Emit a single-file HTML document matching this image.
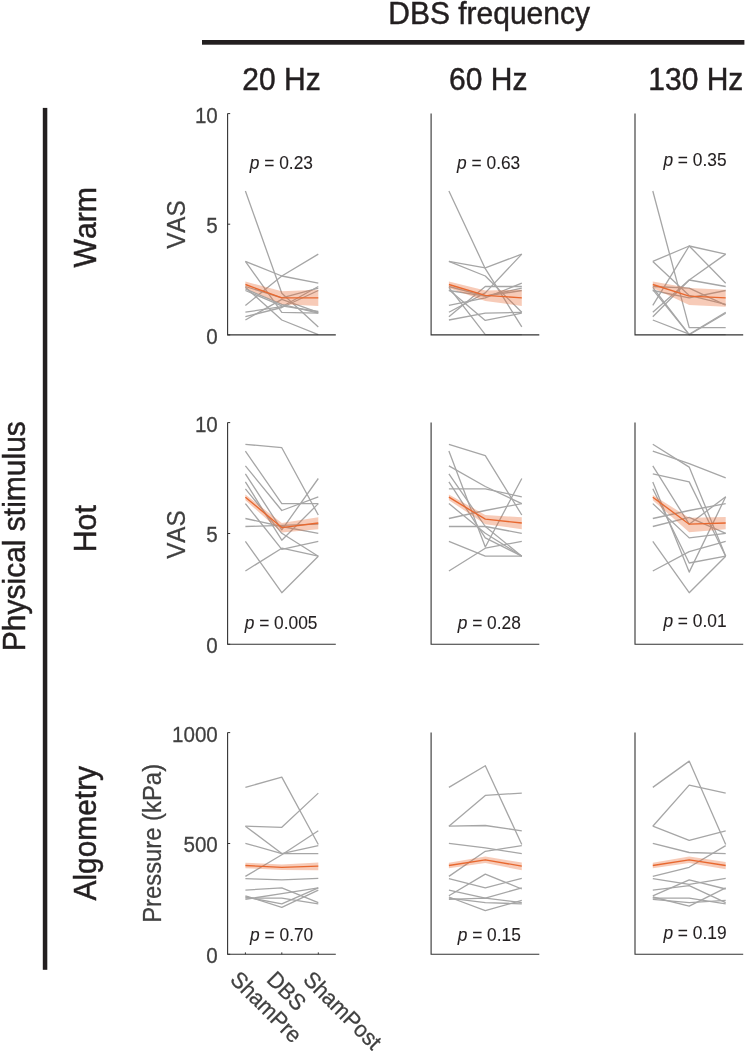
<!DOCTYPE html>
<html><head><meta charset="utf-8"><title>DBS frequency</title>
<style>html,body{margin:0;padding:0;background:#fff;}svg{display:block;filter:blur(0.35px);}text{font-family:"Liberation Sans",sans-serif;font-kerning:none;}</style>
</head><body>
<svg width="746" height="1051" viewBox="0 0 746 1051">
<rect width="746" height="1051" fill="#ffffff"/>
<text transform="translate(489.10,23.50) scale(1,1.05)" font-size="30" text-anchor="middle" fill="#231f20" stroke="#231f20" stroke-width="0.45">DBS frequency</text>
<rect x="202" y="40.0" width="542.4" height="4.7" fill="#231f20"/>
<text transform="translate(281.50,89.80) scale(1,1.05)" font-size="30" text-anchor="middle" fill="#231f20" stroke="#231f20" stroke-width="0.45">20 Hz</text>
<text transform="translate(488.30,89.80) scale(1,1.05)" font-size="30" text-anchor="middle" fill="#231f20" stroke="#231f20" stroke-width="0.45">60 Hz</text>
<text transform="translate(695.80,89.80) scale(1,1.05)" font-size="30" text-anchor="middle" fill="#231f20" stroke="#231f20" stroke-width="0.45">130 Hz</text>
<rect x="42.8" y="107.9" width="4.5" height="861.9" fill="#231f20"/>
<text transform="translate(24.70,536.20) rotate(-90) scale(1,1.05)" font-size="30.0" text-anchor="middle" fill="#231f20" stroke="#231f20" stroke-width="0.45">Physical stimulus</text>
<text transform="translate(96.20,227.30) rotate(-90) scale(1,1.05)" font-size="30.2" text-anchor="middle" fill="#231f20" stroke="#231f20" stroke-width="0.45">Warm</text>
<text transform="translate(96.20,528.70) rotate(-90) scale(1,1.05)" font-size="30.3" text-anchor="middle" fill="#231f20" stroke="#231f20" stroke-width="0.45">Hot</text>
<text transform="translate(96.20,833.20) rotate(-90) scale(1,1.05)" font-size="29.9" text-anchor="middle" fill="#231f20" stroke="#231f20" stroke-width="0.45">Algometry</text>
<text transform="translate(185.00,224.60) rotate(-90) scale(1,1.05)" font-size="24.2" text-anchor="middle" fill="#404040" stroke="#404040" stroke-width="0.25">VAS</text>
<text transform="translate(185.00,534.60) rotate(-90) scale(1,1.05)" font-size="24.2" text-anchor="middle" fill="#404040" stroke="#404040" stroke-width="0.25">VAS</text>
<text transform="translate(161.00,843.40) rotate(-90) scale(1,1.05)" font-size="23.85" text-anchor="middle" fill="#404040" stroke="#404040" stroke-width="0.25">Pressure (kPa)</text>
<text transform="translate(217.80,122.60) scale(1,1.1)" font-size="20.6" text-anchor="end" fill="#404040" stroke="#404040" stroke-width="0.25">10</text>
<text transform="translate(217.80,233.25) scale(1,1.1)" font-size="20.6" text-anchor="end" fill="#404040" stroke="#404040" stroke-width="0.25">5</text>
<text transform="translate(217.80,343.90) scale(1,1.1)" font-size="20.6" text-anchor="end" fill="#404040" stroke="#404040" stroke-width="0.25">0</text>
<text transform="translate(217.80,431.60) scale(1,1.1)" font-size="20.6" text-anchor="end" fill="#404040" stroke="#404040" stroke-width="0.25">10</text>
<text transform="translate(217.80,542.45) scale(1,1.1)" font-size="20.6" text-anchor="end" fill="#404040" stroke="#404040" stroke-width="0.25">5</text>
<text transform="translate(217.80,653.30) scale(1,1.1)" font-size="20.6" text-anchor="end" fill="#404040" stroke="#404040" stroke-width="0.25">0</text>
<text transform="translate(217.80,741.60) scale(1,1.1)" font-size="20.6" text-anchor="end" fill="#404040" stroke="#404040" stroke-width="0.25">1000</text>
<text transform="translate(217.80,852.45) scale(1,1.1)" font-size="20.6" text-anchor="end" fill="#404040" stroke="#404040" stroke-width="0.25">500</text>
<text transform="translate(217.80,963.30) scale(1,1.1)" font-size="20.6" text-anchor="end" fill="#404040" stroke="#404040" stroke-width="0.25">0</text>
<g>
<polyline points="245.4,191.0 281.8,293.3 318.3,326.9" fill="none" stroke="#a6a6a6" stroke-width="1.3" stroke-linejoin="round"/>
<polyline points="245.4,261.4 281.8,276.0 318.3,283.2" fill="none" stroke="#a6a6a6" stroke-width="1.3" stroke-linejoin="round"/>
<polyline points="245.4,261.4 281.8,312.3 318.3,313.2" fill="none" stroke="#a6a6a6" stroke-width="1.3" stroke-linejoin="round"/>
<polyline points="245.4,305.4 281.8,276.0 318.3,254.1" fill="none" stroke="#a6a6a6" stroke-width="1.3" stroke-linejoin="round"/>
<polyline points="245.4,287.3 281.8,320.0 318.3,334.7" fill="none" stroke="#a6a6a6" stroke-width="1.3" stroke-linejoin="round"/>
<polyline points="245.4,288.9 281.8,304.3 318.3,313.2" fill="none" stroke="#a6a6a6" stroke-width="1.3" stroke-linejoin="round"/>
<polyline points="245.4,312.2 281.8,306.7 318.3,286.5" fill="none" stroke="#a6a6a6" stroke-width="1.3" stroke-linejoin="round"/>
<polyline points="245.4,316.7 281.8,307.5 318.3,290.5" fill="none" stroke="#a6a6a6" stroke-width="1.3" stroke-linejoin="round"/>
<polyline points="245.4,320.0 281.8,299.4 318.3,312.3" fill="none" stroke="#a6a6a6" stroke-width="1.3" stroke-linejoin="round"/>
<polyline points="245.4,290.5 281.8,305.9 318.3,311.5" fill="none" stroke="#a6a6a6" stroke-width="1.3" stroke-linejoin="round"/>
<polyline points="245.4,286.5 281.8,297.8 318.3,288.1" fill="none" stroke="#a6a6a6" stroke-width="1.3" stroke-linejoin="round"/>
<polygon points="245.4,281.6 281.8,291.3 318.3,289.7 318.3,305.9 281.8,304.3 245.4,288.1" fill="#e8682f" fill-opacity="0.34"/>
<polyline points="245.4,284.5 281.8,297.8 318.3,297.8" fill="none" stroke="#e8682f" stroke-width="1.35" stroke-linejoin="round"/>
<path d="M227.6,113.6 V334.9 H335.8" fill="none" stroke="#333333" stroke-width="1.1"/>
<path d="M227.6,113.6 h2.6" stroke="#333333" stroke-width="1" fill="none"/>
<path d="M227.6,224.2 h2.6" stroke="#333333" stroke-width="1" fill="none"/>
<path d="M227.6,334.9 h2.6" stroke="#333333" stroke-width="1" fill="none"/>
<text transform="translate(249.80,168.80) scale(1,1.05)" font-size="17.35" text-anchor="start" fill="#231f20" stroke="#231f20" stroke-width="0.1"><tspan font-style="italic">p</tspan> = 0.23</text>
</g>
<g>
<polyline points="448.9,191.0 485.3,268.7 521.8,326.9" fill="none" stroke="#a6a6a6" stroke-width="1.3" stroke-linejoin="round"/>
<polyline points="448.9,261.4 485.3,267.9 521.8,254.1" fill="none" stroke="#a6a6a6" stroke-width="1.3" stroke-linejoin="round"/>
<polyline points="448.9,261.4 485.3,276.0 521.8,312.3" fill="none" stroke="#a6a6a6" stroke-width="1.3" stroke-linejoin="round"/>
<polyline points="448.9,312.2 485.3,292.9 521.8,254.1" fill="none" stroke="#a6a6a6" stroke-width="1.3" stroke-linejoin="round"/>
<polyline points="448.9,287.3 485.3,334.7 521.8,334.7" fill="none" stroke="#a6a6a6" stroke-width="1.3" stroke-linejoin="round"/>
<polyline points="448.9,289.7 485.3,320.4 521.8,313.2" fill="none" stroke="#a6a6a6" stroke-width="1.3" stroke-linejoin="round"/>
<polyline points="448.9,320.0 485.3,313.2 521.8,312.3" fill="none" stroke="#a6a6a6" stroke-width="1.3" stroke-linejoin="round"/>
<polyline points="448.9,305.4 485.3,297.8 521.8,283.2" fill="none" stroke="#a6a6a6" stroke-width="1.3" stroke-linejoin="round"/>
<polyline points="448.9,316.7 485.3,286.5 521.8,286.5" fill="none" stroke="#a6a6a6" stroke-width="1.3" stroke-linejoin="round"/>
<polyline points="448.9,290.5 485.3,296.2 521.8,290.5" fill="none" stroke="#a6a6a6" stroke-width="1.3" stroke-linejoin="round"/>
<polyline points="448.9,286.5 485.3,296.2 521.8,288.1" fill="none" stroke="#a6a6a6" stroke-width="1.3" stroke-linejoin="round"/>
<polygon points="448.9,281.6 485.3,290.5 521.8,289.7 521.8,305.9 485.3,301.0 448.9,288.1" fill="#e8682f" fill-opacity="0.34"/>
<polyline points="448.9,284.5 485.3,295.4 521.8,297.8" fill="none" stroke="#e8682f" stroke-width="1.35" stroke-linejoin="round"/>
<path d="M431.1,113.6 V334.9 H539.3" fill="none" stroke="#333333" stroke-width="1.1"/>
<text transform="translate(457.10,168.60) scale(1,1.05)" font-size="17.35" text-anchor="start" fill="#231f20" stroke="#231f20" stroke-width="0.1"><tspan font-style="italic">p</tspan> = 0.63</text>
</g>
<g>
<polyline points="652.8,191.0 689.2,327.7 725.7,327.7" fill="none" stroke="#a6a6a6" stroke-width="1.3" stroke-linejoin="round"/>
<polyline points="652.8,261.4 689.2,246.0 725.7,254.1" fill="none" stroke="#a6a6a6" stroke-width="1.3" stroke-linejoin="round"/>
<polyline points="652.8,261.4 689.2,295.4 725.7,304.3" fill="none" stroke="#a6a6a6" stroke-width="1.3" stroke-linejoin="round"/>
<polyline points="652.8,305.4 689.2,246.0 725.7,283.2" fill="none" stroke="#a6a6a6" stroke-width="1.3" stroke-linejoin="round"/>
<polyline points="652.8,287.3 689.2,334.7 725.7,334.7" fill="none" stroke="#a6a6a6" stroke-width="1.3" stroke-linejoin="round"/>
<polyline points="652.8,289.7 689.2,334.7 725.7,313.2" fill="none" stroke="#a6a6a6" stroke-width="1.3" stroke-linejoin="round"/>
<polyline points="652.8,320.0 689.2,334.2 725.7,312.3" fill="none" stroke="#a6a6a6" stroke-width="1.3" stroke-linejoin="round"/>
<polyline points="652.8,312.2 689.2,280.0 725.7,254.1" fill="none" stroke="#a6a6a6" stroke-width="1.3" stroke-linejoin="round"/>
<polyline points="652.8,316.7 689.2,280.0 725.7,286.5" fill="none" stroke="#a6a6a6" stroke-width="1.3" stroke-linejoin="round"/>
<polyline points="652.8,290.5 689.2,297.8 725.7,290.5" fill="none" stroke="#a6a6a6" stroke-width="1.3" stroke-linejoin="round"/>
<polyline points="652.8,286.5 689.2,288.1 725.7,305.1" fill="none" stroke="#a6a6a6" stroke-width="1.3" stroke-linejoin="round"/>
<polygon points="652.8,281.6 689.2,288.1 725.7,289.7 725.7,306.7 689.2,305.1 652.8,288.1" fill="#e8682f" fill-opacity="0.34"/>
<polyline points="652.8,284.5 689.2,296.2 725.7,297.8" fill="none" stroke="#e8682f" stroke-width="1.35" stroke-linejoin="round"/>
<path d="M635.0,113.6 V334.9 H743.2" fill="none" stroke="#333333" stroke-width="1.1"/>
<text transform="translate(663.40,165.60) scale(1,1.05)" font-size="17.35" text-anchor="start" fill="#231f20" stroke="#231f20" stroke-width="0.1"><tspan font-style="italic">p</tspan> = 0.35</text>
</g>
<g>
<polyline points="245.4,444.3 281.8,447.7 318.3,515.0" fill="none" stroke="#a6a6a6" stroke-width="1.3" stroke-linejoin="round"/>
<polyline points="245.4,451.1 281.8,503.6 318.3,503.6" fill="none" stroke="#a6a6a6" stroke-width="1.3" stroke-linejoin="round"/>
<polyline points="245.4,465.9 281.8,510.5 318.3,496.8" fill="none" stroke="#a6a6a6" stroke-width="1.3" stroke-linejoin="round"/>
<polyline points="245.4,473.9 281.8,529.9 318.3,478.5" fill="none" stroke="#a6a6a6" stroke-width="1.3" stroke-linejoin="round"/>
<polyline points="245.4,481.9 281.8,540.2 318.3,503.6" fill="none" stroke="#a6a6a6" stroke-width="1.3" stroke-linejoin="round"/>
<polyline points="245.4,488.8 281.8,533.3 318.3,556.2" fill="none" stroke="#a6a6a6" stroke-width="1.3" stroke-linejoin="round"/>
<polyline points="245.4,503.6 281.8,549.3 318.3,541.3" fill="none" stroke="#a6a6a6" stroke-width="1.3" stroke-linejoin="round"/>
<polyline points="245.4,518.5 281.8,526.5 318.3,533.3" fill="none" stroke="#a6a6a6" stroke-width="1.3" stroke-linejoin="round"/>
<polyline points="245.4,526.5 281.8,525.3 318.3,524.2" fill="none" stroke="#a6a6a6" stroke-width="1.3" stroke-linejoin="round"/>
<polyline points="245.4,541.3 281.8,592.7 318.3,556.2" fill="none" stroke="#a6a6a6" stroke-width="1.3" stroke-linejoin="round"/>
<polyline points="245.4,571.0 281.8,548.2 318.3,556.2" fill="none" stroke="#a6a6a6" stroke-width="1.3" stroke-linejoin="round"/>
<polygon points="245.4,494.5 281.8,523.0 318.3,517.3 318.3,529.2 281.8,532.6 245.4,500.2" fill="#e8682f" fill-opacity="0.34"/>
<polyline points="245.4,497.2 281.8,527.6 318.3,523.0" fill="none" stroke="#e8682f" stroke-width="1.35" stroke-linejoin="round"/>
<path d="M227.6,422.6 V644.3 H335.8" fill="none" stroke="#333333" stroke-width="1.1"/>
<path d="M227.6,422.6 h2.6" stroke="#333333" stroke-width="1" fill="none"/>
<path d="M227.6,533.5 h2.6" stroke="#333333" stroke-width="1" fill="none"/>
<path d="M227.6,644.3 h2.6" stroke="#333333" stroke-width="1" fill="none"/>
<text transform="translate(244.70,629.20) scale(1,1.05)" font-size="17.35" text-anchor="start" fill="#231f20" stroke="#231f20" stroke-width="0.1"><tspan font-style="italic">p</tspan> = 0.005</text>
</g>
<g>
<polyline points="448.9,444.3 485.3,455.7 521.8,515.0" fill="none" stroke="#a6a6a6" stroke-width="1.3" stroke-linejoin="round"/>
<polyline points="448.9,451.1 485.3,547.0 521.8,478.5" fill="none" stroke="#a6a6a6" stroke-width="1.3" stroke-linejoin="round"/>
<polyline points="448.9,465.9 485.3,486.5 521.8,503.6" fill="none" stroke="#a6a6a6" stroke-width="1.3" stroke-linejoin="round"/>
<polyline points="448.9,473.9 485.3,526.5 521.8,556.2" fill="none" stroke="#a6a6a6" stroke-width="1.3" stroke-linejoin="round"/>
<polyline points="448.9,481.9 485.3,537.9 521.8,556.2" fill="none" stroke="#a6a6a6" stroke-width="1.3" stroke-linejoin="round"/>
<polyline points="448.9,488.8 485.3,488.8 521.8,496.8" fill="none" stroke="#a6a6a6" stroke-width="1.3" stroke-linejoin="round"/>
<polyline points="448.9,503.6 485.3,533.3 521.8,556.2" fill="none" stroke="#a6a6a6" stroke-width="1.3" stroke-linejoin="round"/>
<polyline points="448.9,518.5 485.3,510.5 521.8,503.6" fill="none" stroke="#a6a6a6" stroke-width="1.3" stroke-linejoin="round"/>
<polyline points="448.9,526.5 485.3,526.5 521.8,533.3" fill="none" stroke="#a6a6a6" stroke-width="1.3" stroke-linejoin="round"/>
<polyline points="448.9,541.3 485.3,556.2 521.8,556.2" fill="none" stroke="#a6a6a6" stroke-width="1.3" stroke-linejoin="round"/>
<polyline points="448.9,571.0 485.3,548.2 521.8,541.3" fill="none" stroke="#a6a6a6" stroke-width="1.3" stroke-linejoin="round"/>
<polygon points="448.9,494.5 485.3,515.0 521.8,517.3 521.8,529.2 485.3,524.2 448.9,500.2" fill="#e8682f" fill-opacity="0.34"/>
<polyline points="448.9,497.2 485.3,519.2 521.8,523.0" fill="none" stroke="#e8682f" stroke-width="1.35" stroke-linejoin="round"/>
<path d="M431.1,422.6 V644.3 H539.3" fill="none" stroke="#333333" stroke-width="1.1"/>
<text transform="translate(457.70,629.20) scale(1,1.05)" font-size="17.35" text-anchor="start" fill="#231f20" stroke="#231f20" stroke-width="0.1"><tspan font-style="italic">p</tspan> = 0.28</text>
</g>
<g>
<polyline points="652.8,444.3 689.2,467.1 725.7,556.2" fill="none" stroke="#a6a6a6" stroke-width="1.3" stroke-linejoin="round"/>
<polyline points="652.8,451.1 689.2,463.7 725.7,477.8" fill="none" stroke="#a6a6a6" stroke-width="1.3" stroke-linejoin="round"/>
<polyline points="652.8,465.9 689.2,524.2 725.7,496.8" fill="none" stroke="#a6a6a6" stroke-width="1.3" stroke-linejoin="round"/>
<polyline points="652.8,473.9 689.2,481.9 725.7,556.2" fill="none" stroke="#a6a6a6" stroke-width="1.3" stroke-linejoin="round"/>
<polyline points="652.8,481.9 689.2,572.1 725.7,496.8" fill="none" stroke="#a6a6a6" stroke-width="1.3" stroke-linejoin="round"/>
<polyline points="652.8,488.8 689.2,563.0 725.7,556.2" fill="none" stroke="#a6a6a6" stroke-width="1.3" stroke-linejoin="round"/>
<polyline points="652.8,503.6 689.2,537.9 725.7,533.3" fill="none" stroke="#a6a6a6" stroke-width="1.3" stroke-linejoin="round"/>
<polyline points="652.8,518.5 689.2,510.5 725.7,503.6" fill="none" stroke="#a6a6a6" stroke-width="1.3" stroke-linejoin="round"/>
<polyline points="652.8,526.5 689.2,517.3 725.7,533.3" fill="none" stroke="#a6a6a6" stroke-width="1.3" stroke-linejoin="round"/>
<polyline points="652.8,541.3 689.2,592.7 725.7,556.2" fill="none" stroke="#a6a6a6" stroke-width="1.3" stroke-linejoin="round"/>
<polyline points="652.8,571.0 689.2,551.6 725.7,541.3" fill="none" stroke="#a6a6a6" stroke-width="1.3" stroke-linejoin="round"/>
<polygon points="652.8,495.0 689.2,517.8 725.7,516.9 725.7,529.2 689.2,532.2 652.8,500.2" fill="#e8682f" fill-opacity="0.34"/>
<polyline points="652.8,497.2 689.2,524.2 725.7,523.0" fill="none" stroke="#e8682f" stroke-width="1.35" stroke-linejoin="round"/>
<path d="M635.0,422.6 V644.3 H743.2" fill="none" stroke="#333333" stroke-width="1.1"/>
<text transform="translate(663.40,626.50) scale(1,1.05)" font-size="17.35" text-anchor="start" fill="#231f20" stroke="#231f20" stroke-width="0.1"><tspan font-style="italic">p</tspan> = 0.01</text>
</g>
<g>
<polyline points="245.4,787.4 281.8,777.1 318.3,844.5" fill="none" stroke="#a6a6a6" stroke-width="1.3" stroke-linejoin="round"/>
<polyline points="245.4,826.2 281.8,827.3 318.3,793.1" fill="none" stroke="#a6a6a6" stroke-width="1.3" stroke-linejoin="round"/>
<polyline points="245.4,826.2 281.8,853.6 318.3,853.6" fill="none" stroke="#a6a6a6" stroke-width="1.3" stroke-linejoin="round"/>
<polyline points="245.4,843.3 281.8,853.6 318.3,845.6" fill="none" stroke="#a6a6a6" stroke-width="1.3" stroke-linejoin="round"/>
<polyline points="245.4,876.4 281.8,854.7 318.3,830.8" fill="none" stroke="#a6a6a6" stroke-width="1.3" stroke-linejoin="round"/>
<polyline points="245.4,878.7 281.8,879.9 318.3,878.3" fill="none" stroke="#a6a6a6" stroke-width="1.3" stroke-linejoin="round"/>
<polyline points="245.4,890.1 281.8,887.8 318.3,902.7" fill="none" stroke="#a6a6a6" stroke-width="1.3" stroke-linejoin="round"/>
<polyline points="245.4,895.8 281.8,907.3 318.3,890.1" fill="none" stroke="#a6a6a6" stroke-width="1.3" stroke-linejoin="round"/>
<polyline points="245.4,897.0 281.8,903.8 318.3,887.8" fill="none" stroke="#a6a6a6" stroke-width="1.3" stroke-linejoin="round"/>
<polyline points="245.4,898.1 281.8,898.1 318.3,903.8" fill="none" stroke="#a6a6a6" stroke-width="1.3" stroke-linejoin="round"/>
<polyline points="245.4,899.3 281.8,893.6 318.3,887.8" fill="none" stroke="#a6a6a6" stroke-width="1.3" stroke-linejoin="round"/>
<polygon points="245.4,862.7 281.8,864.6 318.3,862.5 318.3,870.3 281.8,870.0 245.4,868.2" fill="#e8682f" fill-opacity="0.34"/>
<polyline points="245.4,865.5 281.8,867.3 318.3,866.2" fill="none" stroke="#e8682f" stroke-width="1.35" stroke-linejoin="round"/>
<path d="M227.6,732.6 V954.3 H335.8" fill="none" stroke="#333333" stroke-width="1.1"/>
<path d="M227.6,732.6 h2.6" stroke="#333333" stroke-width="1" fill="none"/>
<path d="M227.6,843.5 h2.6" stroke="#333333" stroke-width="1" fill="none"/>
<path d="M227.6,954.3 h2.6" stroke="#333333" stroke-width="1" fill="none"/>
<path d="M245.4,954.3 v-1.9" stroke="#333333" stroke-width="1" fill="none"/>
<path d="M281.8,954.3 v-1.9" stroke="#333333" stroke-width="1" fill="none"/>
<path d="M318.3,954.3 v-1.9" stroke="#333333" stroke-width="1" fill="none"/>
<text transform="translate(250.10,941.00) scale(1,1.05)" font-size="17.35" text-anchor="start" fill="#231f20" stroke="#231f20" stroke-width="0.1"><tspan font-style="italic">p</tspan> = 0.70</text>
</g>
<g>
<polyline points="448.9,787.4 485.3,765.7 521.8,844.5" fill="none" stroke="#a6a6a6" stroke-width="1.3" stroke-linejoin="round"/>
<polyline points="448.9,826.2 485.3,795.4 521.8,793.1" fill="none" stroke="#a6a6a6" stroke-width="1.3" stroke-linejoin="round"/>
<polyline points="448.9,826.2 485.3,825.5 521.8,830.8" fill="none" stroke="#a6a6a6" stroke-width="1.3" stroke-linejoin="round"/>
<polyline points="448.9,843.3 485.3,847.9 521.8,853.6" fill="none" stroke="#a6a6a6" stroke-width="1.3" stroke-linejoin="round"/>
<polyline points="448.9,876.4 485.3,851.3 521.8,845.6" fill="none" stroke="#a6a6a6" stroke-width="1.3" stroke-linejoin="round"/>
<polyline points="448.9,878.7 485.3,887.8 521.8,878.3" fill="none" stroke="#a6a6a6" stroke-width="1.3" stroke-linejoin="round"/>
<polyline points="448.9,890.1 485.3,898.1 521.8,887.8" fill="none" stroke="#a6a6a6" stroke-width="1.3" stroke-linejoin="round"/>
<polyline points="448.9,895.8 485.3,874.1 521.8,889.0" fill="none" stroke="#a6a6a6" stroke-width="1.3" stroke-linejoin="round"/>
<polyline points="448.9,897.0 485.3,910.7 521.8,900.4" fill="none" stroke="#a6a6a6" stroke-width="1.3" stroke-linejoin="round"/>
<polyline points="448.9,898.1 485.3,902.7 521.8,903.8" fill="none" stroke="#a6a6a6" stroke-width="1.3" stroke-linejoin="round"/>
<polyline points="448.9,899.3 485.3,898.1 521.8,902.7" fill="none" stroke="#a6a6a6" stroke-width="1.3" stroke-linejoin="round"/>
<polygon points="448.9,862.7 485.3,856.6 521.8,862.5 521.8,870.3 485.3,863.0 448.9,868.2" fill="#e8682f" fill-opacity="0.34"/>
<polyline points="448.9,865.5 485.3,859.8 521.8,866.2" fill="none" stroke="#e8682f" stroke-width="1.35" stroke-linejoin="round"/>
<path d="M431.1,732.6 V954.3 H539.3" fill="none" stroke="#333333" stroke-width="1.1"/>
<text transform="translate(457.70,941.00) scale(1,1.05)" font-size="17.35" text-anchor="start" fill="#231f20" stroke="#231f20" stroke-width="0.1"><tspan font-style="italic">p</tspan> = 0.15</text>
</g>
<g>
<polyline points="652.8,787.4 689.2,761.1 725.7,844.5" fill="none" stroke="#a6a6a6" stroke-width="1.3" stroke-linejoin="round"/>
<polyline points="652.8,826.2 689.2,785.1 725.7,793.1" fill="none" stroke="#a6a6a6" stroke-width="1.3" stroke-linejoin="round"/>
<polyline points="652.8,826.2 689.2,840.3 725.7,830.8" fill="none" stroke="#a6a6a6" stroke-width="1.3" stroke-linejoin="round"/>
<polyline points="652.8,843.3 689.2,852.5 725.7,853.6" fill="none" stroke="#a6a6a6" stroke-width="1.3" stroke-linejoin="round"/>
<polyline points="652.8,876.4 689.2,867.3 725.7,845.6" fill="none" stroke="#a6a6a6" stroke-width="1.3" stroke-linejoin="round"/>
<polyline points="652.8,878.7 689.2,884.4 725.7,878.3" fill="none" stroke="#a6a6a6" stroke-width="1.3" stroke-linejoin="round"/>
<polyline points="652.8,890.1 689.2,885.6 725.7,902.7" fill="none" stroke="#a6a6a6" stroke-width="1.3" stroke-linejoin="round"/>
<polyline points="652.8,895.8 689.2,879.9 725.7,889.0" fill="none" stroke="#a6a6a6" stroke-width="1.3" stroke-linejoin="round"/>
<polyline points="652.8,897.0 689.2,906.1 725.7,887.8" fill="none" stroke="#a6a6a6" stroke-width="1.3" stroke-linejoin="round"/>
<polyline points="652.8,898.1 689.2,898.1 725.7,903.8" fill="none" stroke="#a6a6a6" stroke-width="1.3" stroke-linejoin="round"/>
<polyline points="652.8,899.3 689.2,902.7 725.7,900.4" fill="none" stroke="#a6a6a6" stroke-width="1.3" stroke-linejoin="round"/>
<polygon points="652.8,862.7 689.2,856.6 725.7,862.0 725.7,869.3 689.2,863.0 652.8,868.2" fill="#e8682f" fill-opacity="0.34"/>
<polyline points="652.8,865.5 689.2,859.8 725.7,865.5" fill="none" stroke="#e8682f" stroke-width="1.35" stroke-linejoin="round"/>
<path d="M635.0,732.6 V954.3 H743.2" fill="none" stroke="#333333" stroke-width="1.1"/>
<text transform="translate(663.40,938.50) scale(1,1.05)" font-size="17.35" text-anchor="start" fill="#231f20" stroke="#231f20" stroke-width="0.1"><tspan font-style="italic">p</tspan> = 0.19</text>
</g>
<text transform="translate(229.00,980.70) rotate(45) scale(1,1.05)" font-size="21.6" text-anchor="start" fill="#404040" stroke="#404040" stroke-width="0.25">ShamPre</text>
<text transform="translate(265.40,980.70) rotate(45) scale(1,1.05)" font-size="21.6" text-anchor="start" fill="#404040" stroke="#404040" stroke-width="0.25">DBS</text>
<text transform="translate(301.90,980.70) rotate(45) scale(1,1.05)" font-size="21.6" text-anchor="start" fill="#404040" stroke="#404040" stroke-width="0.25">ShamPost</text>
</svg></body></html>
